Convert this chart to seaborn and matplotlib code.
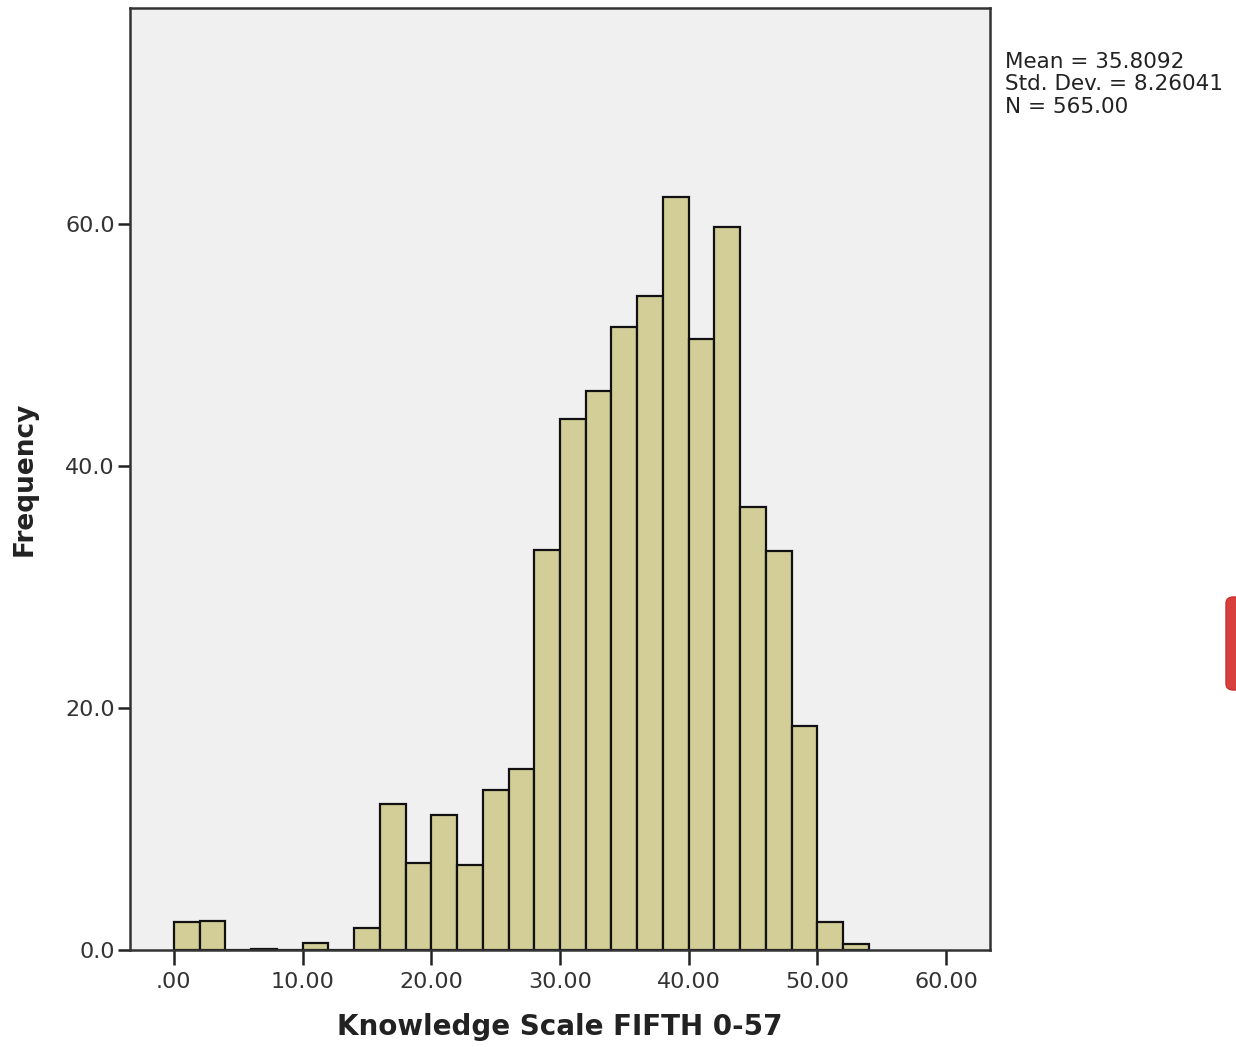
import numpy as np
import pandas as pd
import matplotlib
matplotlib.use("Agg")
import matplotlib.pyplot as plt
from matplotlib.patches import FancyBboxPatch
import seaborn as sns

# Data: histogram bins (width 2) and frequencies
bin_edges = list(range(0, 56, 2))
bin_centers = [1, 3, 5, 7, 9, 11, 13, 15, 17, 19, 21, 23, 25, 27, 29,
               31, 33, 35, 37, 39, 41, 43, 45, 47, 49, 51, 53]
frequencies = [2.3, 2.4, 0.0, 0.1, 0.0, 0.55, 0.0, 1.8, 12.1, 7.2, 11.2, 7.0, 13.2, 15.0, 33.1,
               43.9, 46.2, 51.5, 54.1, 62.3, 50.5, 59.8, 36.6, 33.0, 18.5, 2.3, 0.5]
x_ticks = [0, 10, 20, 30, 40, 50, 60]
x_tick_labels = [".00", "10.00", "20.00", "30.00", "40.00", "50.00", "60.00"]
y_ticks = [0, 20, 40, 60]
y_tick_labels = ["0.0", "20.0", "40.0", "60.0"]
stats_lines = ["Mean = 35.8092", "Std. Dev. = 8.26041", "N = 565.00"]

df = pd.DataFrame({"score": bin_centers, "freq": frequencies})

sns.set_style("white")
plt.rcParams["font.family"] = ["DejaVu Sans"]

fig = plt.figure(figsize=(12.36, 10.47), dpi=100)
ax = fig.add_axes([130 / 1236, 97 / 1047, 860 / 1236, 942 / 1047])
ax.set_facecolor("#F0F0F0")

sns.histplot(data=df, x="score", weights="freq", bins=bin_edges, ax=ax,
             color="#D3CE98", edgecolor="#111111", linewidth=1.6, alpha=1.0)

ax.set_xlim(-3.4, 63.4)
ax.set_ylim(0, 77.9)
ax.set_xticks(x_ticks)
ax.set_xticklabels(x_tick_labels)
ax.set_yticks(y_ticks)
ax.set_yticklabels(y_tick_labels)
ax.tick_params(axis="x", direction="out", length=11, width=1.8, colors="#222222",
               labelsize=16, pad=5, bottom=True)
ax.tick_params(axis="y", direction="out", length=9, width=1.8, colors="#222222",
               labelsize=16, pad=2, left=True)
for lab in ax.get_xticklabels() + ax.get_yticklabels():
    lab.set_color("#333333")

for s in ax.spines.values():
    s.set_visible(True)
    s.set_color("#333333")
    s.set_linewidth(1.8)

ax.set_xlabel("Knowledge Scale FIFTH 0-57", fontsize=20, fontweight="bold",
              color="#222222", labelpad=15)
ax.set_ylabel("Frequency", fontsize=19, fontweight="bold", color="#222222", labelpad=20)

fig.text(1005 / 1236, 1 - 52 / 1047, "\n".join(stats_lines), fontsize=15.5,
         color="#222222", va="top", ha="left", linespacing=1.15)

# red tab at the right edge
fig.patches.append(FancyBboxPatch((1226 / 1236, 357 / 1047), 30 / 1236, 93 / 1047,
                                  boxstyle="round,pad=0,rounding_size=0.006",
                                  transform=fig.transFigure, facecolor="#D8403E",
                                  edgecolor="#C83030", linewidth=1, clip_on=False))

fig.savefig("out.png", dpi=100)
